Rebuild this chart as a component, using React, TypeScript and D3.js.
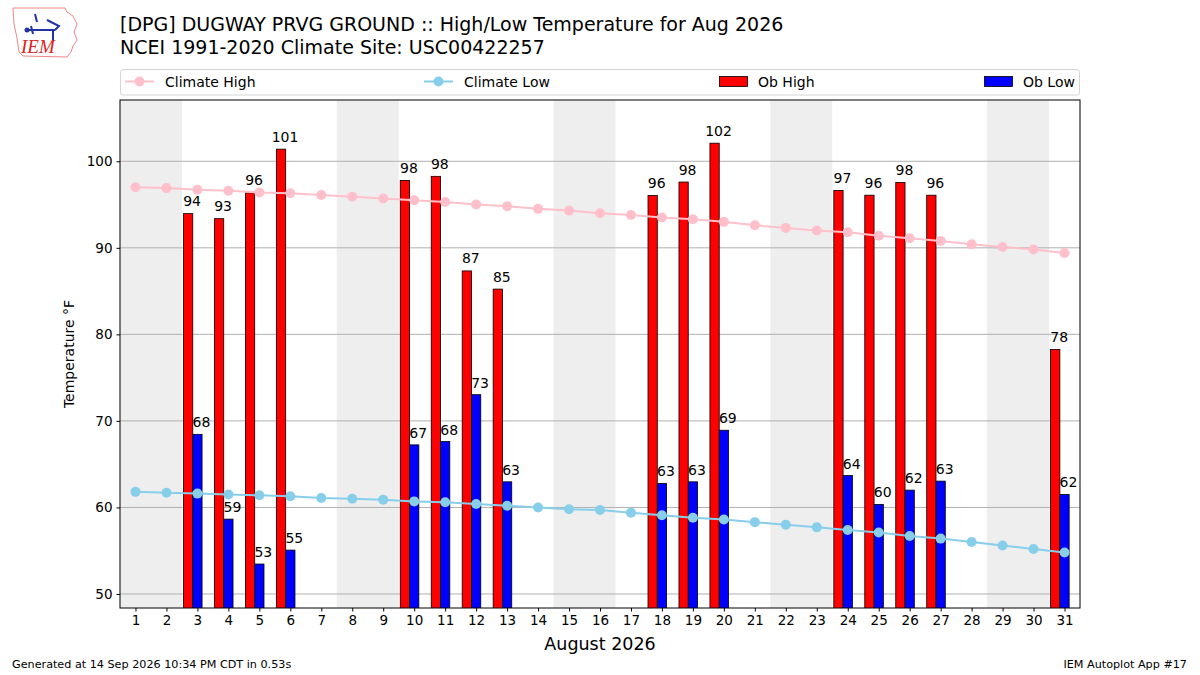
import React, { useEffect, useRef } from 'react';
import * as d3 from 'd3';

const days = [1, 2, 3, 4, 5, 6, 7, 8, 9, 10, 11, 12, 13, 14, 15, 16, 17, 18, 19, 20, 21, 22, 23, 24, 25, 26, 27, 28, 29, 30, 31];
const weekendStarts = [1, 8, 15, 22, 29];

const climateHigh = [97.0, 96.9, 96.7, 96.6, 96.4, 96.3, 96.1, 95.9, 95.7, 95.5, 95.3, 95.0, 94.8, 94.5, 94.3, 94.0, 93.8, 93.5, 93.3, 93.0, 92.6, 92.3, 92.0, 91.8, 91.4, 91.1, 90.8, 90.4, 90.1, 89.8, 89.4];
const climateLow = [61.8, 61.7, 61.6, 61.5, 61.4, 61.3, 61.1, 61.0, 60.9, 60.7, 60.6, 60.4, 60.2, 60.0, 59.8, 59.7, 59.4, 59.1, 58.8, 58.6, 58.3, 58.0, 57.7, 57.4, 57.1, 56.7, 56.4, 56.0, 55.6, 55.2, 54.8];

const obHigh: (number | null)[] = [null, null, 93.95, 93.37, 96.35, 101.4, null, null, null, 97.79, 98.26, 87.33, 85.23, null, null, null, null, 96.05, 97.6, 102.09, null, null, null, 96.63, 96.08, 97.56, 96.08, null, null, null, 78.26];
const obLow: (number | null)[] = [null, null, 68.45, 58.65, 53.46, 55.07, null, null, null, 67.23, 67.61, 73.03, 62.96, null, null, null, null, 62.77, 62.96, 68.92, null, null, null, 63.69, 60.35, 62.0, 63.04, null, null, null, 61.5];

const yTicks = [50, 60, 70, 80, 90, 100];

const FONT = 'DejaVu Sans, sans-serif';

const App: React.FC = () => {
    const ref = useRef<SVGSVGElement>(null);
    const margin = { top: 100, right: 120, bottom: 67, left: 120 };
    const W = 1200;
    const H = 675;
    const width = W - margin.left - margin.right;
    const height = H - margin.top - margin.bottom;

    useEffect(() => {
        if (!ref.current) return;
        const root = d3.select(ref.current);
        root.selectAll('*').remove();

        const x = d3.scaleLinear().domain([0.5, 31.5]).range([0, width]);
        const y = d3.scaleLinear().domain([48.38, 107.08]).range([height, 0]);

        // titles
        root.append('text').attr('x', 120).attr('y', 31).attr('font-size', 19).attr('font-family', FONT)
            .text('[DPG] DUGWAY PRVG GROUND :: High/Low Temperature for Aug 2026');
        root.append('text').attr('x', 120).attr('y', 54).attr('font-size', 19).attr('font-family', FONT)
            .text('NCEI 1991-2020 Climate Site: USC00422257');

        // logo (rough)
        const logo = root.append('g').attr('transform', 'translate(9,6)');
        logo.append('path')
            .attr('d', 'M4,2 L56,2 L58,6 L64,10 L68,18 L65,26 L68,34 L64,40 L62,46 L58,51 L14,50 L10,46 L8,32 L5,18 Z')
            .attr('fill', 'white').attr('stroke', '#e88').attr('stroke-width', 1);
        logo.append('path').attr('d', 'M16,24 L46,24 M22,20 L24,28 M38,14 L50,20 L46,24 M44,24 L44,34 M26,8 L28,16')
            .attr('stroke', '#2233aa').attr('stroke-width', 2).attr('fill', 'none');
        logo.append('circle').attr('cx', 18).attr('cy', 24).attr('r', 2.5).attr('fill', '#2233aa');
        logo.append('text').attr('x', 12).attr('y', 47).attr('font-size', 19).attr('font-style', 'italic')
            .attr('font-family', 'Liberation Serif, serif').attr('fill', '#d22').text('IEM');

        // legend
        const lg = root.append('g');
        lg.append('rect').attr('x', 120.5).attr('y', 69.5).attr('width', 959).attr('height', 25.5)
            .attr('rx', 3).attr('fill', 'white').attr('stroke', '#d5d5d5');
        const lineItems = [
            { label: 'Climate High', color: '#ffc0cb', x0: 125 },
            { label: 'Climate Low', color: '#87ceeb', x0: 424 },
        ];
        lineItems.forEach((it) => {
            lg.append('line').attr('x1', it.x0).attr('x2', it.x0 + 29).attr('y1', 81.5).attr('y2', 81.5)
                .attr('stroke', it.color).attr('stroke-width', 2);
            lg.append('circle').attr('cx', it.x0 + 14.5).attr('cy', 81.5).attr('r', 5).attr('fill', it.color);
            lg.append('text').attr('x', it.x0 + 40).attr('y', 86.5).attr('font-size', 14).attr('font-family', FONT)
                .text(it.label);
        });
        const barItems = [
            { label: 'Ob High', color: 'red', x0: 719.5 },
            { label: 'Ob Low', color: 'blue', x0: 984.5 },
        ];
        barItems.forEach((it) => {
            lg.append('rect').attr('x', it.x0).attr('y', 76.5).attr('width', 28).attr('height', 10)
                .attr('fill', it.color).attr('stroke', 'black').attr('stroke-width', 0.8);
            lg.append('text').attr('x', it.x0 + 38.5).attr('y', 86.5).attr('font-size', 14).attr('font-family', FONT)
                .text(it.label);
        });

        const g = root.append('g').attr('transform', `translate(${margin.left},${margin.top})`);

        g.append('defs').append('clipPath').attr('id', 'plotclip')
            .append('rect').attr('width', width).attr('height', height);

        const plot = g.append('g').attr('clip-path', 'url(#plotclip)');

        // weekend shading
        plot.selectAll('.wk').data(weekendStarts).enter().append('rect')
            .attr('x', (d) => x(d - 0.5)).attr('width', (d) => x(d + 1.5) - x(d - 0.5))
            .attr('y', 0).attr('height', height).attr('fill', '#eeeeee');

        // grid
        plot.selectAll('.grid').data(yTicks).enter().append('line')
            .attr('x1', 0).attr('x2', width).attr('y1', (d) => y(d)).attr('y2', (d) => y(d))
            .attr('stroke', '#b0b0b0').attr('stroke-width', 1);

        const highData = days.map((d, i) => ({ d, v: obHigh[i] })).filter((p) => p.v !== null) as { d: number; v: number }[];
        const lowData = days.map((d, i) => ({ d, v: obLow[i] })).filter((p) => p.v !== null) as { d: number; v: number }[];

        plot.selectAll('.hbar').data(highData).enter().append('rect')
            .attr('x', (p) => x(p.d - 0.45)).attr('width', (p) => x(p.d - 0.15) - x(p.d - 0.45))
            .attr('y', (p) => y(p.v)).attr('height', (p) => height - y(p.v) + 2)
            .attr('fill', 'red').attr('stroke', 'black').attr('stroke-width', 0.8);
        plot.selectAll('.lbar').data(lowData).enter().append('rect')
            .attr('x', (p) => x(p.d - 0.15)).attr('width', (p) => x(p.d + 0.15) - x(p.d - 0.15))
            .attr('y', (p) => y(p.v)).attr('height', (p) => height - y(p.v) + 2)
            .attr('fill', 'blue').attr('stroke', 'black').attr('stroke-width', 0.8);

        // climate lines
        const series = [
            { vals: climateHigh, color: '#ffc0cb' },
            { vals: climateLow, color: '#87ceeb' },
        ];
        series.forEach((s) => {
            const line = d3.line<number>().x((_, i) => x(days[i])).y((v) => y(v));
            plot.append('path').datum(s.vals).attr('d', line).attr('fill', 'none')
                .attr('stroke', s.color).attr('stroke-width', 2);
            plot.selectAll(null).data(s.vals).enter().append('circle')
                .attr('cx', (_, i) => x(days[i])).attr('cy', (v) => y(v)).attr('r', 5).attr('fill', s.color);
        });

        // value labels
        g.selectAll('.hlab').data(highData).enter().append('text')
            .attr('x', (p) => x(p.d - 0.3) + 4).attr('y', (p) => y(p.v) - 7.5)
            .attr('text-anchor', 'middle').attr('font-size', 14).attr('font-family', FONT)
            .text((p) => Math.round(p.v));
        g.selectAll('.llab').data(lowData).enter().append('text')
            .attr('x', (p) => x(p.d) + 4).attr('y', (p) => y(p.v) - 7)
            .attr('text-anchor', 'middle').attr('font-size', 14).attr('font-family', FONT)
            .text((p) => Math.round(p.v));

        // frame
        g.append('rect').attr('width', width).attr('height', height).attr('fill', 'none')
            .attr('stroke', 'black').attr('stroke-width', 1);

        // axes
        const yAxis = g.append('g').call(d3.axisLeft(y).tickValues(yTicks).tickSize(3.5).tickPadding(4));
        const xAxis = g.append('g').attr('transform', `translate(0,${height})`)
            .call(d3.axisBottom(x).tickValues(days).tickFormat(d3.format('d')).tickSize(3.5).tickPadding(4));
        [xAxis, yAxis].forEach((a) => {
            a.select('.domain').remove();
            a.selectAll('text').attr('font-size', 13.5).attr('font-family', FONT).attr('fill', 'black');
            a.selectAll('line').attr('stroke', 'black');
        });

        g.append('text').attr('x', width / 2).attr('y', height + 42).attr('text-anchor', 'middle')
            .attr('font-size', 17.5).attr('font-family', FONT).text('August 2026');
        g.append('text').attr('transform', `translate(-46,${height / 2}) rotate(-90)`).attr('text-anchor', 'middle')
            .attr('font-size', 14).attr('font-family', FONT).text('Temperature °F');

        // footer
        root.append('text').attr('x', 12).attr('y', 668).attr('font-size', 11.2).attr('font-family', FONT)
            .text('Generated at 14 Sep 2026 10:34 PM CDT in 0.53s');
        root.append('text').attr('x', 1187).attr('y', 668).attr('text-anchor', 'end').attr('font-size', 11.2)
            .attr('font-family', FONT).text('IEM Autoplot App #17');
    }, []);

    return (
        <svg ref={ref} width={W} height={H} style={{ position: 'absolute', left: 0, top: 0, background: 'white' }} />
    );
};

export default App;
